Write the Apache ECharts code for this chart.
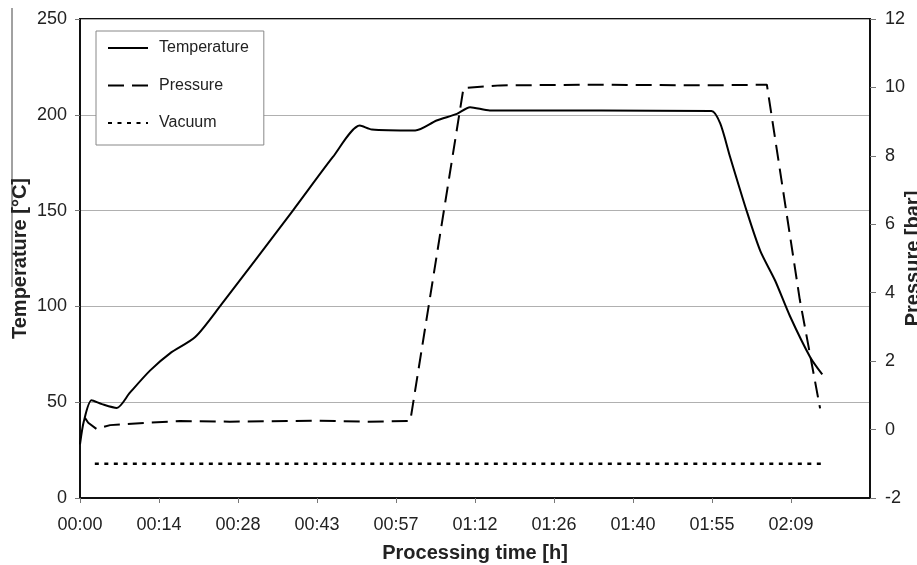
<!DOCTYPE html>
<html>
<head>
<meta charset="utf-8">
<script src="https://cdn.jsdelivr.net/npm/echarts@6/dist/echarts.min.js"></script>
<style>
html,body{margin:0;padding:0;background:#fff;}
#chart{width:917px;height:565px;}
</style>
</head>
<body>
<div id="chart"></div>
<script>
// Time in minutes
const tickLabels = ["00:00","00:14","00:28","00:43","00:57","01:12","01:26","01:40","01:55","02:09"];

const tempTime   = [0, 0.7, 2.1, 4.0, 6.7, 9.1, 12.8, 16.4, 21.0, 25.5, 38.8, 46.1, 51.0, 53.2, 61.1, 65.0, 68.7, 71.1, 74.7, 95.0, 115.1, 116.7, 118.5, 121.5, 124.0, 126.7, 129.4, 133.1, 135.3];
const tempValues = [28, 40, 51, 49, 47, 55, 66.6, 75.5, 84, 100, 150, 178, 194.4, 192.3, 191.8, 197, 200.5, 204, 202.3, 202.2, 202, 195.5, 178, 150, 129, 113.5, 95, 73.5, 64.5];

const presTime   = [0.9, 1.5, 3.0, 5.5, 12.2, 18.2, 27.3, 42.5, 52.3, 60.2, 69.9, 76.6, 94.8, 113.0, 125.2, 131.2, 134.9];
const presValues = [0.34, 0.2, 0.02, 0.13, 0.2, 0.25, 0.23, 0.26, 0.23, 0.25, 9.98, 10.06, 10.08, 10.06, 10.08, 3.8, 0.62];

const vacTime   = [2.7, 135.3];
const vacValues = [-1, -1];

const zip = (a, b) => a.map((v, i) => [v, b[i]]);

const FONT = '"Liberation Sans", Arial, sans-serif';
const chart = echarts.init(document.getElementById('chart'), null, {renderer: 'canvas'});

chart.setOption({
  animation: false,
  backgroundColor: '#fff',
  textStyle: {fontFamily: FONT},
  grid: {left: 80, right: 47, top: 19, bottom: 67, containLabel: false, outerBoundsMode: 'none',
         show: true, borderColor: '#111', borderWidth: 2, backgroundColor: 'transparent'},
  legend: {
    left: 96, top: 31, orient: 'vertical',
    backgroundColor: '#fff', borderColor: '#888', borderWidth: 1,
    padding: [9, 15, 14, 11],
    itemWidth: 40, itemHeight: 14, itemGap: 21.5,
    itemStyle: {opacity: 0},
    textStyle: {fontFamily: FONT, fontSize: 16, lineHeight: 16, color: '#222', padding: [0, 0, 0, 6]},
    data: ['Temperature', 'Pressure', 'Vacuum']
  },
  xAxis: {
    type: 'value', min: 0, max: 144, interval: 14.4,
    name: 'Processing time [h]', nameLocation: 'middle', nameGap: 45, nameMoveOverlap: false,
    nameTextStyle: {fontFamily: FONT, fontSize: 20, fontWeight: 'bold', color: '#222'},
    axisLine: {show: true, lineStyle: {color: '#111', width: 2}},
    axisTick: {show: true, length: 5, lineStyle: {color: '#777'}},
    axisLabel: {
      fontFamily: FONT, fontSize: 18, color: '#222', margin: 18,
      showMaxLabel: false,
      formatter: v => { const i = Math.round(v / 14.4); return tickLabels[i] !== undefined ? tickLabels[i] : ''; }
    },
    splitLine: {show: false}
  },
  yAxis: [
    {
      type: 'value', min: 0, max: 250, interval: 50, position: 'left',
      name: 'Temperature [°C]', nameLocation: 'middle', nameGap: 50, nameMoveOverlap: false,
      nameTextStyle: {fontFamily: FONT, fontSize: 20, fontWeight: 'bold', color: '#222'},
      axisLine: {show: true, lineStyle: {color: '#111', width: 2}},
      axisTick: {show: true, length: 5, lineStyle: {color: '#777'}},
      axisLabel: {fontFamily: FONT, fontSize: 18, color: '#222', margin: 13},
      splitLine: {show: true, lineStyle: {color: '#b0b0b0', width: 1}}
    },
    {
      type: 'value', min: -2, max: 12, interval: 2, position: 'right',
      name: 'Pressure [bar]', nameLocation: 'middle', nameGap: 33, nameMoveOverlap: false,
      nameTextStyle: {fontFamily: FONT, fontSize: 20, fontWeight: 'bold', color: '#222'},
      axisLine: {show: true, lineStyle: {color: '#111', width: 2}},
      axisTick: {show: true, length: 6, lineStyle: {color: '#777'}},
      axisLabel: {fontFamily: FONT, fontSize: 18, color: '#222', margin: 15},
      splitLine: {show: false}
    }
  ],
  series: [
    {
      name: 'Temperature', type: 'line', yAxisIndex: 0, smooth: 0.25, symbol: 'none',
      data: zip(tempTime, tempValues),
      lineStyle: {color: '#000', width: 2, type: 'solid'},
      itemStyle: {color: '#000'}
    },
    {
      name: 'Pressure', type: 'line', yAxisIndex: 1, smooth: false, symbol: 'none',
      data: zip(presTime, presValues),
      lineStyle: {color: '#000', width: 2, type: [16, 8]},
      itemStyle: {color: '#000'}
    },
    {
      name: 'Vacuum', type: 'line', yAxisIndex: 1, smooth: false, symbol: 'none',
      data: zip(vacTime, vacValues),
      lineStyle: {color: '#000', width: 2.5, type: [4, 5.5]},
      itemStyle: {color: '#000'}
    }
  ],
  graphic: [
    {type: 'line', shape: {x1: 12, y1: 8, x2: 12, y2: 287}, style: {stroke: '#444', lineWidth: 1}, silent: true}
  ]
});
</script>
</body>
</html>
